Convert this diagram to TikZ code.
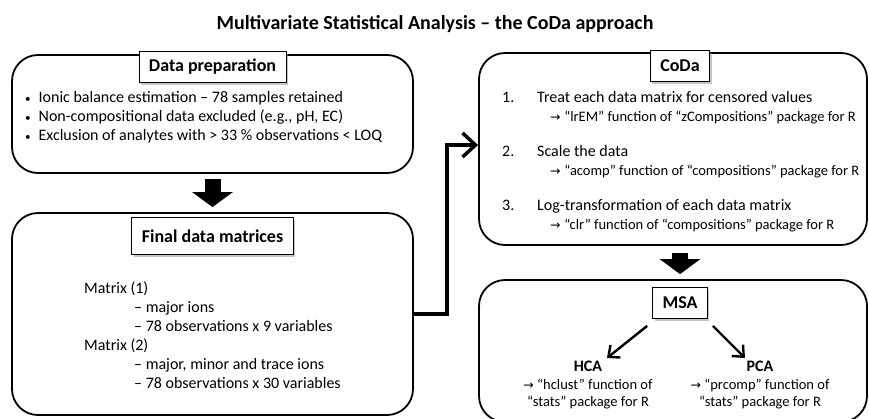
\documentclass[tikz,border=0pt]{standalone}
\usepackage{fontspec}
\setmainfont{Carlito}
\newfontfamily\arrowfont{DejaVu Sans}
\usetikzlibrary{positioning,arrows.meta,shadows}
\newcommand{\ra}{{\arrowfont\fontsize{12.5}{19}\selectfont →}}
\newcommand{\bul}{{\fontsize{11}{19}\selectfont\textbullet}\hspace{8pt}}

\begin{document}
\begin{tikzpicture}[x=1pt, y=-1pt,
  box/.style={draw, line width=1.8pt, rounded corners=26pt, inner sep=0pt},
  head/.style={draw, line width=0.8pt, fill=white, minimum height=31pt, inner xsep=10pt,
    drop shadow={shadow xshift=2pt, shadow yshift=-2pt, fill=black!45},
    font=\fontsize{18}{20}\selectfont\bfseries},
  txt/.style={font=\fontsize{16}{19}\selectfont, align=left, inner sep=0pt},
  small/.style={font=\fontsize{14.5}{17.5}\selectfont, align=center, inner sep=0pt},
  bigarrow/.style={line width=16pt, -{Triangle[length=15pt, width=40pt]}},
  thinarrow/.style={line width=2.4pt, -{Straight Barb[length=9pt, width=16pt]}}]
\useasboundingbox (0,0) rectangle (869,418);

\node[font=\fontsize{20}{22}\selectfont\bfseries] (title) at (435,24)
  {Multivariate Statistical Analysis -- the CoDa approach};

% left column
\node[box, minimum width=401pt, minimum height=118pt] (prep) at (212.5,114) {};
\node[head, anchor=north] (prephead) at ([yshift=3pt]prep.north) {Data preparation};
\node[txt, anchor=north west] (preptxt) at (25,91)
  {\bul Ionic balance estimation -- 78 samples retained\\
   \bul Non-compositional data excluded (e.g., pH, EC)\\
   \bul Exclusion of analytes with > 33 \% observations < LOQ};

\node[box, minimum width=401pt, minimum height=202pt] (final) at (212.5,314) {};
\node[head, anchor=north, minimum height=37pt] (finalhead) at ([yshift=-5pt]final.north) {Final data matrices};
\node[txt, anchor=north west] (finaltxt) at (84,282)
  {Matrix (1)\\
   \hspace*{50pt}-- major ions\\
   \hspace*{50pt}-- 78 observations x 9 variables\\
   Matrix (2)\\
   \hspace*{50pt}-- major, minor and trace ions\\
   \hspace*{50pt}-- 78 observations x 30 variables};

% right column
\node[box, minimum width=388pt, minimum height=192pt] (coda) at (673,149) {};
\node[head, anchor=north] (codahead) at ([shift={(7,-2)}]coda.north) {CoDa};
\node[txt, anchor=north west] (codatxt) at (502,89)
  {\begin{tabular}{@{}p{35pt}@{}l@{}}
   1. & Treat each data matrix for censored values\\
      & \hspace*{13pt}{\ra} \fontsize{14.5}{19}\selectfont``lrEM'' function of ``zCompositions'' package for R\\[16pt]
   2. & Scale the data\\
      & \hspace*{13pt}{\ra} \fontsize{14.5}{19}\selectfont``acomp'' function of ``compositions'' package for R\\[16pt]
   3. & Log-transformation of each data matrix\\
      & \hspace*{13pt}{\ra} \fontsize{14.5}{19}\selectfont``clr'' function of ``compositions'' package for R
   \end{tabular}};

\node[box, minimum width=388pt, minimum height=142pt] (msa) at (673,351) {};
\node[head, anchor=north] (msahead) at ([shift={(7,8)}]msa.north) {MSA};
\node[small, anchor=north] (hca) at (588,361)
  {{\fontsize{16}{17.5}\selectfont\bfseries HCA}\\
   {\ra} ``hclust'' function of\\ ``stats'' package for R};
\node[small, anchor=north] (pca) at (760,361)
  {{\fontsize{16}{17.5}\selectfont\bfseries PCA}\\
   {\ra} ``prcomp'' function of\\ ``stats'' package for R};

% connectors
\draw[bigarrow, shorten <=5pt, shorten >=5pt] (prep.south) -- (final.north);
\draw[bigarrow, shorten <=7pt, shorten >=5pt] ([xshift=7pt]coda.south) -- ([xshift=7pt]msa.north);
\draw[line width=3.5pt, -{Straight Barb[length=13pt, width=24pt]}]
  (final.east) -- ++(33,0) |- ([yshift=4pt]coda.west);
\draw[thinarrow] ([shift={(-5,7)}]msahead.south west) -- ([shift={(19,-3)}]hca.north);
\draw[thinarrow] ([shift={(5,7)}]msahead.south east) -- ([shift={(-15,-3)}]pca.north);
\end{tikzpicture}
\end{document}
